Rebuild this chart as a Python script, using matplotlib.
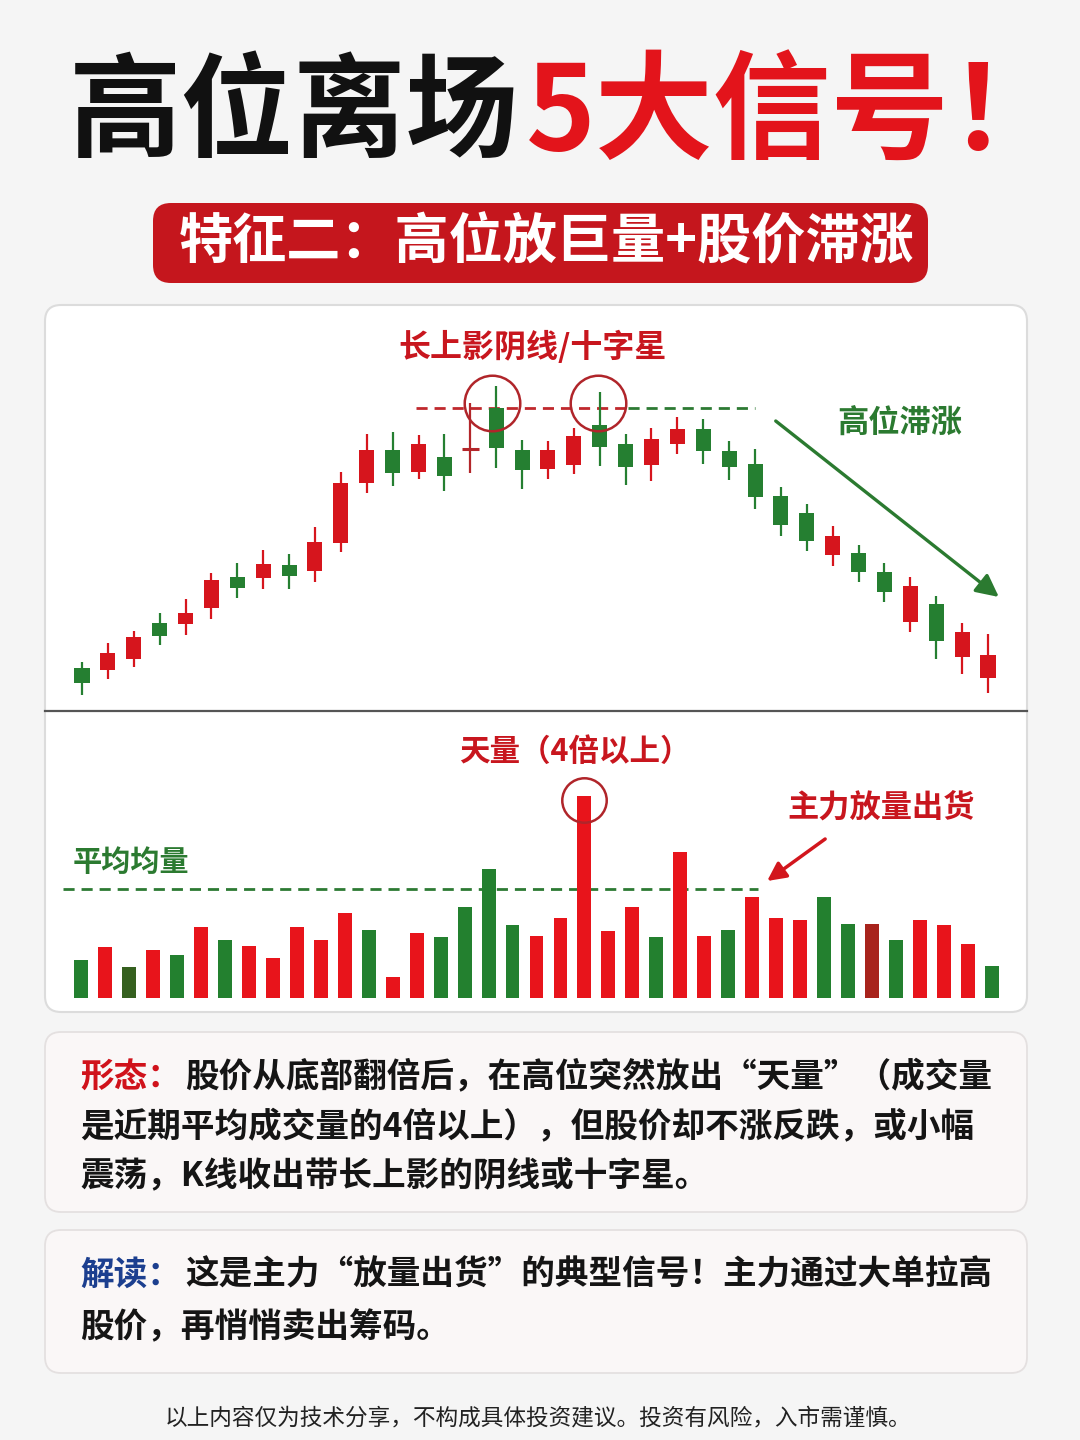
import matplotlib
matplotlib.use("Agg")
import matplotlib.pyplot as plt
from matplotlib.patches import FancyBboxPatch

plt.rcParams['font.family'] = ['Noto Sans CJK SC', 'DejaVu Sans']

# ---------------- data ----------------
# candlesticks (price units), index = trading day
opens  = [52, 50, 61, 97, 96, 112, 143, 142, 155, 149, 177, 237, 270, 248, 263, 271, 312, 270,
          251, 255, 295, 276, 255, 276, 291, 269, 256, 224, 207, 165, 167, 148, 98, 116, 63, 42]
closes = [37, 67, 83, 84, 107, 140, 132, 156, 144, 178, 237, 270, 247, 276, 244, 271, 272, 250,
          270, 284, 273, 253, 281, 291, 269, 253, 223, 195, 179, 184, 148, 128, 134, 79, 88, 65]
highs  = [58, 77, 89, 107, 121, 147, 157, 170, 166, 193, 248, 286, 288, 285, 286, 317, 334, 280,
          279, 292, 328, 286, 292, 303, 301, 279, 271, 233, 216, 194, 175, 157, 143, 124, 97, 86]
lows   = [25, 41, 53, 75, 85, 101, 122, 131, 131, 138, 168, 227, 234, 241, 229, 247, 252, 231,
          241, 246, 254, 235, 239, 266, 256, 240, 211, 184, 169, 154, 138, 118, 88, 61, 46, 27]

# volume bars
volumes = [38, 51, 31, 48, 43, 71, 58, 52, 40, 71, 58, 85, 68, 21, 65, 61, 91, 129, 73, 62,
           80, 202, 67, 91, 61, 146, 62, 68, 101, 80, 78, 101, 74, 74, 58, 78, 73, 54, 32]
vol_kind = ['G', 'R', 'DG', 'R', 'G', 'R', 'G', 'R', 'R', 'R', 'R', 'R', 'G', 'R', 'R', 'G', 'G', 'G', 'G', 'R',
            'R', 'R', 'R', 'R', 'G', 'R', 'R', 'G', 'R', 'R', 'R', 'G', 'G', 'DR', 'G', 'R', 'R', 'R', 'G']
avg_volume = 109
resistance = 312

# ---------------- colours ----------------
RED = '#d6151d'
GREEN = '#257f31'
DOJI = '#b3262a'
VRED = '#e8141b'
VCOL = {'R': VRED, 'G': '#23802f', 'DG': '#35601f', 'DR': '#a8231c'}
TXT_RED = '#c8161e'
TXT_GREEN = '#2b7a30'

W, H = 1080, 1440
fig = plt.figure(figsize=(W / 100, H / 100), dpi=100)
fig.patch.set_facecolor('#f5f5f5')

# overlay in pixel coordinates
bg = fig.add_axes([0, 0, 1, 1])
bg.set_xlim(0, W)
bg.set_ylim(H, 0)
bg.axis('off')


def rbox(x0, y0, x1, y1, fc, ec, r=15, lw=1.5, z=1):
    p = FancyBboxPatch((x0, y0), x1 - x0, y1 - y0,
                       boxstyle=f"round,pad=0,rounding_size={r}",
                       fc=fc, ec=ec, lw=lw, zorder=z)
    bg.add_patch(p)


# title
bg.text(519, 115, '高位离场', fontsize=81, fontweight='heavy', color='#111111',
        ha='right', va='center')
bg.text(526, 116, '5大信号！', fontsize=85, fontweight='heavy', color='#e3141b',
        ha='left', va='center')

# subtitle band
rbox(153, 203, 928, 283, '#c5161d', 'none', r=18, lw=0)
bg.text(547, 243, '特征二：高位放巨量+股价滞涨', fontsize=39, fontweight='heavy',
        color='white', ha='center', va='center')

# chart panel
rbox(45, 305, 1027, 1012, 'white', '#dcdcdc', r=16, lw=1.5)
bg.plot([45, 1027], [711, 711], color='#555555', lw=1.6, zorder=2)

# text boxes
rbox(45, 1032, 1027, 1212, '#faf7f7', '#e4e0e0', r=16, lw=1.3)
rbox(45, 1230, 1027, 1373, '#faf7f7', '#e4e0e0', r=16, lw=1.3)

FS = 24.2
EM = FS / 72 * 100
BODY_W = 'bold'
bg.text(80, 1077, '形态：', fontsize=FS, fontweight='heavy', color='#d0121b', ha='left', va='center')
bg.text(80 + 3 * EM + 4, 1077, '股价从底部翻倍后，在高位突然放出“天量”（成交量',
        fontsize=FS, fontweight=BODY_W, color='#151515', ha='left', va='center')
bg.text(80, 1127, '是近期平均成交量的4倍以上），但股价却不涨反跌，或小幅',
        fontsize=FS, fontweight=BODY_W, color='#151515', ha='left', va='center')
bg.text(80, 1175, '震荡，K线收出带长上影的阴线或十字星。',
        fontsize=FS, fontweight=BODY_W, color='#151515', ha='left', va='center')
bg.text(80, 1275, '解读：', fontsize=FS, fontweight='heavy', color='#1c3f8f', ha='left', va='center')
bg.text(80 + 3 * EM + 4, 1275, '这是主力“放量出货”的典型信号！主力通过大单拉高',
        fontsize=FS, fontweight=BODY_W, color='#151515', ha='left', va='center')
bg.text(80, 1328, '股价，再悄悄卖出筹码。',
        fontsize=FS, fontweight=BODY_W, color='#151515', ha='left', va='center')

bg.text(538, 1418, '以上内容仅为技术分享，不构成具体投资建议。投资有风险，入市需谨慎。',
        fontsize=16.3, color='#222222', ha='center', va='center')

# chart labels
bg.text(533, 347, '长上影阴线/十字星', fontsize=23, fontweight='bold', color=TXT_RED,
        ha='center', va='center')
bg.text(900, 423, '高位滞涨', fontsize=22.5, fontweight='bold', color=TXT_GREEN,
        ha='center', va='center')
bg.text(575, 752, '天量（4倍以上）', fontsize=22, fontweight='bold', color=TXT_RED,
        ha='center', va='center')
bg.text(881, 808, '主力放量出货', fontsize=22.5, fontweight='bold', color=TXT_RED,
        ha='center', va='center')
bg.text(73, 862, '平均均量', fontsize=21, fontweight='bold', color=TXT_GREEN,
        ha='left', va='center')

# ---------------- candlestick axes ----------------
n = len(opens)
x0px, x1px = 82, 988
step = (x1px - x0px) / (n - 1)
axc = fig.add_axes([45 / W, 1 - 708 / H, 982 / W, 398 / H])
axc.set_facecolor('none')
axc.set_xlim(-(x0px - 45) / step, (n - 1) + (1027 - x1px) / step)
axc.set_ylim(12, 410)
axc.axis('off')

for i in range(n):
    o, c, hi, lo = opens[i], closes[i], highs[i], lows[i]
    if c > o:
        col = RED
    elif c < o:
        col = GREEN
    else:
        col = DOJI
    axc.vlines(i, lo, hi, color=col, lw=1.6, zorder=3)
    if c != o:
        axc.bar(i, abs(c - o), bottom=min(o, c), width=0.58, color=col, zorder=4)
    else:
        axc.hlines(o, i - 0.32, i + 0.32, color=col, lw=2.2, zorder=4)

# resistance dashed line
axc.plot([12.9, 21.1], [resistance, resistance], color='#c0282d', lw=2,
         ls=(0, (4, 2.5)), zorder=2)
axc.plot([21.1, 26.0], [resistance, resistance], color='#2d7a33', lw=2,
         ls=(0, (4, 2.5)), zorder=2)

# circles around the long upper shadows
axc.plot([15.83, 19.95], [317, 317], ls='none', marker='o', ms=40, mfc='none',
         mec='#b0252a', mew=1.8, zorder=5)

# downtrend arrow
axc.annotate('', xy=(35.42, 123), xytext=(26.8, 299),
             arrowprops=dict(arrowstyle='-|>', color=TXT_GREEN, lw=2.4,
                             mutation_scale=34, shrinkA=0, shrinkB=0))

# ---------------- volume axes ----------------
m = len(volumes)
v0px, v1px = 81, 992
vstep = (v1px - v0px) / (m - 1)
axv = fig.add_axes([45 / W, 1 - 998 / H, 982 / W, 286 / H])
axv.set_facecolor('none')
axv.set_xlim(-(v0px - 45) / vstep, (m - 1) + (1027 - v1px) / vstep)
axv.set_ylim(0, 286)
axv.axis('off')

axv.bar(range(m), volumes, width=0.58, color=[VCOL[k] for k in vol_kind], zorder=3)
axv.plot([-0.75, 28.24], [avg_volume, avg_volume], color='#2d7a33', lw=2,
         ls=(0, (4, 2.5)), zorder=2)
axv.plot([21], [198], ls='none', marker='o', ms=32, mfc='none', mec='#b0252a',
         mew=1.8, zorder=5)
axv.annotate('', xy=(28.62, 117), xytext=(31.04, 159),
             arrowprops=dict(arrowstyle='-|>', color='#d2161d', lw=2.5,
                             mutation_scale=28, shrinkA=0, shrinkB=0))

fig.savefig('out.png', dpi=100, facecolor=fig.get_facecolor())
